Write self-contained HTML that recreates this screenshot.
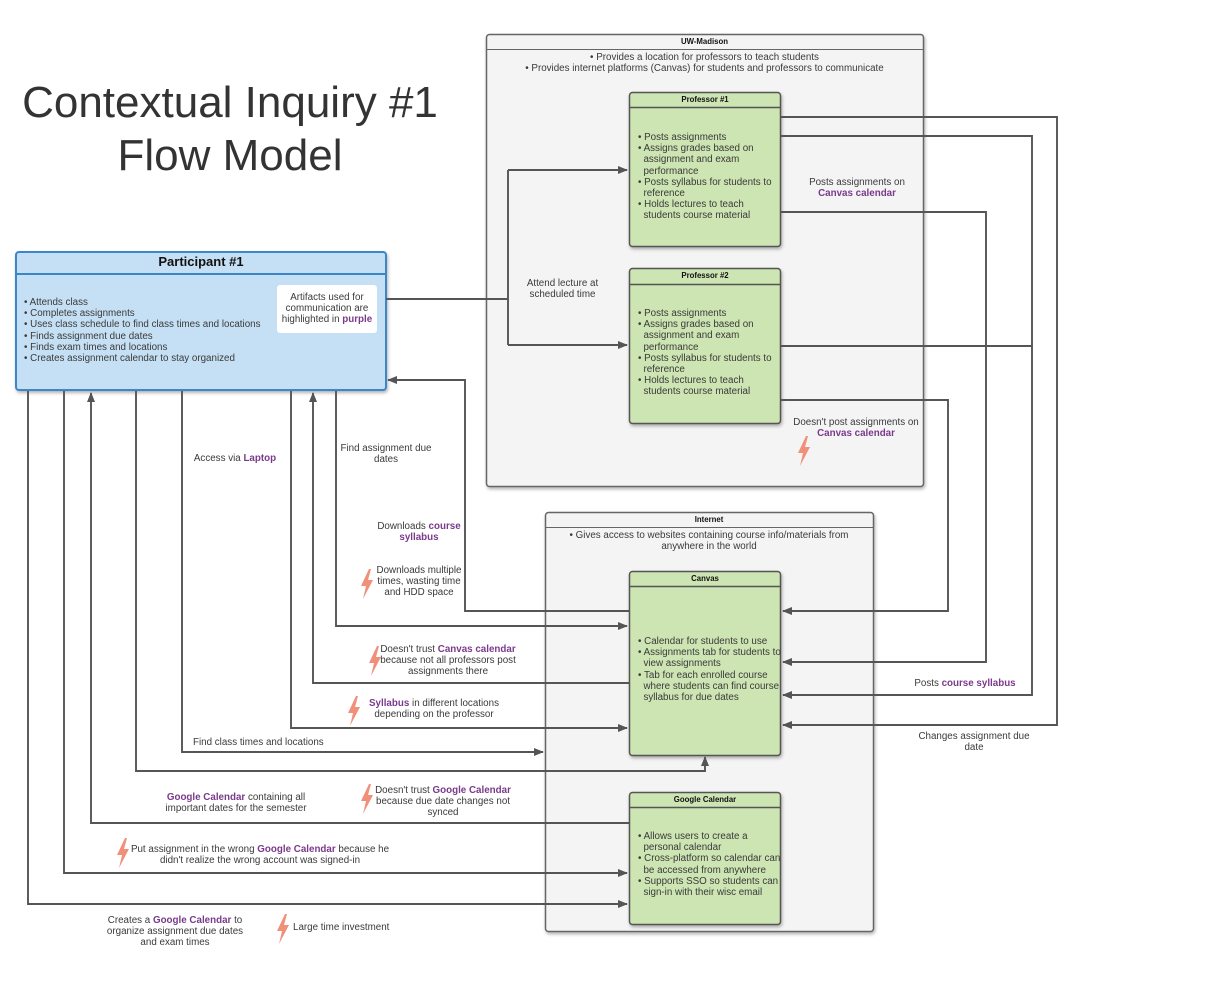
<!DOCTYPE html>
<html><head><meta charset="utf-8"><style>
body{margin:0;width:1214px;height:990px;background:#fff;position:relative;font-family:"Liberation Sans",sans-serif;color:#333;overflow:hidden}
.a{position:absolute}
.t{position:absolute;font-size:9.8px;line-height:11.2px;text-align:center;color:#3a3a3a}
.p{color:#7a3a8c;font-weight:bold}
.h{position:absolute;font-size:7.8px;font-weight:bold;text-align:center;color:#111}
ul{margin:0;padding:0 0 0 16px;font-size:9.8px;line-height:11.2px;color:#3a3a3a}
li{margin:0}
</style></head><body>
<svg class="a" style="left:0;top:0" width="1214" height="990">
<defs><marker id="ar" markerWidth="10" markerHeight="8" refX="9" refY="4" orient="auto" markerUnits="userSpaceOnUse"><path d="M0,0 L10,4 L0,8 Z" fill="#555"/></marker>
<filter id="sh"><feDropShadow dx="1" dy="2" stdDeviation="1.5" flood-opacity="0.3"/></filter>
<symbol id="bolt" viewBox="0 0 14 30"><path d="M9,0 L1,17 L6,17 L3,30 L13,11 L8,11 L11,0 Z" fill="#f0907a"/></symbol></defs>
<rect x="486.5" y="34.5" width="437" height="452" rx="3" fill="#f4f4f4" stroke="#666" stroke-width="1.5" filter="url(#sh)"/>
<line x1="486" y1="49.5" x2="923" y2="49.5" stroke="#666"/>
<rect x="545.5" y="512.5" width="328" height="419" rx="3" fill="#f4f4f4" stroke="#666" stroke-width="1.5" filter="url(#sh)"/>
<line x1="545" y1="527.5" x2="873" y2="527.5" stroke="#666"/>
<rect x="16" y="252" width="370" height="138" rx="3" fill="#c5e0f4" stroke="#3a87c8" stroke-width="2" filter="url(#sh)"/>
<line x1="16" y1="274" x2="386" y2="274" stroke="#3a87c8" stroke-width="2"/>
<rect x="277" y="285" width="100" height="48" rx="3" fill="#fff"/>
<g fill="#cde4b3" stroke="#555" stroke-width="1.5" filter="url(#sh)">
<rect x="629.5" y="92.5" width="151" height="154" rx="3"/>
<rect x="629.5" y="268.5" width="151" height="155" rx="3"/>
<rect x="629.5" y="571.5" width="151" height="184" rx="3"/>
<rect x="629.5" y="792.5" width="151" height="132" rx="3"/>
</g>
<g stroke="#555" stroke-width="1.5">
<line x1="629" y1="107.5" x2="781" y2="107.5"/><line x1="629" y1="284.5" x2="781" y2="284.5"/>
<line x1="629" y1="586.5" x2="781" y2="586.5"/><line x1="629" y1="807.5" x2="781" y2="807.5"/>
</g>
<g fill="none" stroke="#555" stroke-width="1.9">
<path d="M386,299 H508 M508,170 V345 M508,170 H627" marker-end="url(#ar)"/>
<path d="M508,345 H627" marker-end="url(#ar)"/>
<path d="M629,611 H465 V380 H388" marker-end="url(#ar)"/>
<path d="M336,391 V626 H627" marker-end="url(#ar)"/>
<path d="M629,683 H313 V393" marker-end="url(#ar)"/>
<path d="M291,391 V728 H627" marker-end="url(#ar)"/>
<path d="M182,391 V752 H543" marker-end="url(#ar)"/>
<path d="M136,391 V771 H705 V757" marker-end="url(#ar)"/>
<path d="M629,823 H91 V393" marker-end="url(#ar)"/>
<path d="M64,391 V873 H627" marker-end="url(#ar)"/>
<path d="M28,391 V904 H627" marker-end="url(#ar)"/>
<path d="M781,117 H1057 V725 H783" marker-end="url(#ar)"/>
<path d="M781,136 H1032 V695 H783" marker-end="url(#ar)"/>
<path d="M781,346 H1032"/>
<path d="M781,212 H986 V662 H783" marker-end="url(#ar)"/>
<path d="M781,400 H948 V611 H783" marker-end="url(#ar)"/>
</g>
<use href="#bolt" x="797" y="436" width="14" height="30"/>
<use href="#bolt" x="360" y="569" width="14" height="30"/>
<use href="#bolt" x="368" y="646" width="14" height="30"/>
<use href="#bolt" x="347" y="696" width="14" height="30"/>
<use href="#bolt" x="360" y="784" width="14" height="30"/>
<use href="#bolt" x="116" y="838" width="14" height="30"/>
<use href="#bolt" x="276" y="914" width="14" height="30"/>
</svg>

<div class="a" style="left:0;top:76px;width:460px;text-align:center;font-size:44px;line-height:53px;color:#333">Contextual Inquiry #1<br>Flow Model</div>

<div class="a" style="left:16px;top:254px;width:370px;text-align:center;font-size:13px;font-weight:bold;color:#111">Participant #1</div>
<ul class="a" style="left:16px;top:297px;list-style:none;padding-left:8px"><li>• Attends class</li><li>• Completes assignments</li><li>• Uses class schedule to find class times and locations</li><li>• Finds assignment due dates</li><li>• Finds exam times and locations</li><li>• Creates assignment calendar to stay organized</li></ul>
<div class="t" style="left:277px;top:292px;width:100px">Artifacts used for communication are highlighted in <span class="p">purple</span></div>

<div class="h" style="left:486px;top:37px;width:437px">UW-Madison</div>
<div class="t" style="left:486px;top:52px;width:437px">• Provides a location for professors to teach students<br>• Provides internet platforms (Canvas) for students and professors to communicate</div>
<div class="h" style="left:629px;top:95px;width:152px">Professor #1</div>
<div class="h" style="left:629px;top:271px;width:152px">Professor #2</div>
<div class="h" style="left:545px;top:515px;width:328px">Internet</div>
<div class="t" style="left:550px;top:530px;width:318px">• Gives access to websites containing course info/materials from anywhere in the world</div>
<div class="h" style="left:629px;top:574px;width:152px">Canvas</div>
<div class="h" style="left:629px;top:795px;width:152px">Google Calendar</div>

<ul class="a" style="left:630px;top:132px;width:140px;list-style:none;padding-left:8px"><li>• Posts assignments</li><li>• Assigns grades based on<br>&nbsp;&nbsp;assignment and exam<br>&nbsp;&nbsp;performance</li><li>• Posts syllabus for students to<br>&nbsp;&nbsp;reference</li><li>• Holds lectures to teach<br>&nbsp;&nbsp;students course material</li></ul>
<ul class="a" style="left:630px;top:308px;width:140px;list-style:none;padding-left:8px"><li>• Posts assignments</li><li>• Assigns grades based on<br>&nbsp;&nbsp;assignment and exam<br>&nbsp;&nbsp;performance</li><li>• Posts syllabus for students to<br>&nbsp;&nbsp;reference</li><li>• Holds lectures to teach<br>&nbsp;&nbsp;students course material</li></ul>
<ul class="a" style="left:630px;top:636px;width:150px;list-style:none;padding-left:8px"><li>• Calendar for students to use</li><li>• Assignments tab for students to<br>&nbsp;&nbsp;view assignments</li><li>• Tab for each enrolled course<br>&nbsp;&nbsp;where students can find course<br>&nbsp;&nbsp;syllabus for due dates</li></ul>
<ul class="a" style="left:630px;top:831px;width:150px;list-style:none;padding-left:8px"><li>• Allows users to create a<br>&nbsp;&nbsp;personal calendar</li><li>• Cross-platform so calendar can<br>&nbsp;&nbsp;be accessed from anywhere</li><li>• Supports SSO so students can<br>&nbsp;&nbsp;sign-in with their wisc email</li></ul>

<div class="t" style="left:792px;top:177px;width:130px">Posts assignments on<br><span class="p">Canvas calendar</span></div>
<div class="t" style="left:520px;top:278px;width:85px">Attend lecture at scheduled time</div>
<div class="t" style="left:790px;top:417px;width:132px">Doesn't post assignments on<br><span class="p">Canvas calendar</span></div>
<div class="t" style="left:180px;top:453px;width:110px">Access via <span class="p">Laptop</span></div>
<div class="t" style="left:336px;top:443px;width:100px">Find assignment due dates</div>
<div class="t" style="left:370px;top:521px;width:98px">Downloads <span class="p">course syllabus</span></div>
<div class="t" style="left:372px;top:565px;width:94px">Downloads multiple times, wasting time and HDD space</div>
<div class="t" style="left:380px;top:644px;width:136px">Doesn't trust <span class="p">Canvas calendar</span> because not all professors post assignments there</div>
<div class="t" style="left:360px;top:698px;width:148px"><span class="p">Syllabus</span> in different locations depending on the professor</div>
<div class="a" style="left:193px;top:737px;font-size:9.8px;color:#3a3a3a">Find class times and locations</div>
<div class="t" style="left:900px;top:678px;width:130px">Posts <span class="p">course syllabus</span></div>
<div class="t" style="left:914px;top:731px;width:120px">Changes assignment due date</div>
<div class="t" style="left:160px;top:792px;width:152px"><span class="p">Google Calendar</span> containing all important dates for the semester</div>
<div class="t" style="left:374px;top:785px;width:138px">Doesn't trust <span class="p">Google Calendar</span> because due date changes not synced</div>
<div class="t" style="left:130px;top:844px;width:260px">Put assignment in the wrong <span class="p">Google Calendar</span> because he didn't realize the wrong account was signed-in</div>
<div class="t" style="left:100px;top:915px;width:150px">Creates a <span class="p">Google Calendar</span> to organize assignment due dates and exam times</div>
<div class="a" style="left:293px;top:922px;font-size:9.8px;color:#3a3a3a">Large time investment</div>
</body></html>
